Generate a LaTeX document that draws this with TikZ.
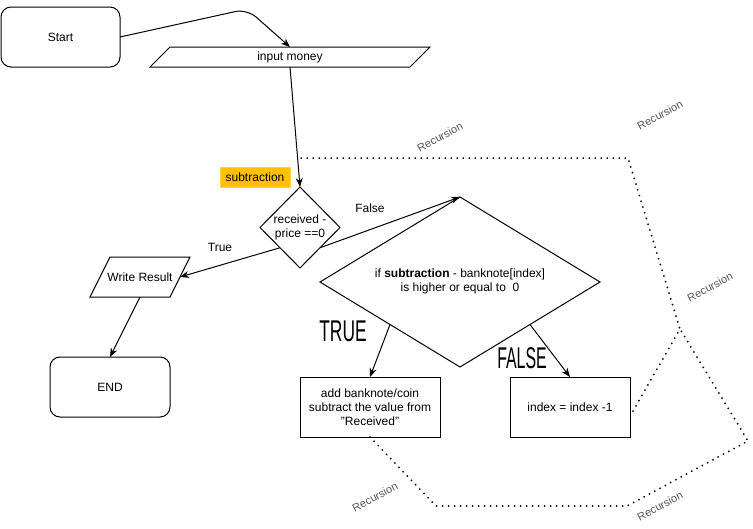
\documentclass[tikz,border=0pt]{standalone}
\usepackage{fontspec}
\setmainfont{Liberation Sans}
\usetikzlibrary{shapes.geometric,arrows.meta}
\definecolor{amber}{RGB}{255,192,0}
\definecolor{recgray}{RGB}{85,85,85}
\tikzset{
  base/.style={draw=black,line width=1pt,font=\fontsize{12}{14}\selectfont,align=center,inner sep=0pt,outer sep=0pt},
  rbox/.style={base,rectangle,rounded corners=10pt,minimum width=119pt,minimum height=60pt},
  sbox/.style={base,rectangle,minimum width=140pt,minimum height=60pt},
  paratext/.style={font=\fontsize{12}{14}\selectfont,align=center,inner sep=0pt,outer sep=0pt,rectangle},
  paraline/.style={draw=black,line width=1pt,line join=miter},
  dia/.style={base,diamond},
  txt/.style={font=\fontsize{12}{14}\selectfont,align=center,inner sep=0pt},
  conn/.style={line width=1pt,-{Stealth[length=9pt,width=7pt]}},
  dots/.style={line width=2pt,line cap=round,dash pattern=on 0pt off 6pt},
  rec/.style={text=recgray,font=\fontsize{11}{13}\selectfont,rotate=28,inner sep=0pt},
  big/.style={inner sep=0pt,font=\fontsize{30}{30}\selectfont}
}
\begin{document}
\begin{tikzpicture}[x=1pt,y=-1pt]
\useasboundingbox (0,0) rectangle (753,528);
% nodes
\node[rbox] (start) at (60.5,37) {Start};
\node[paratext,minimum width=260pt,minimum height=20pt] (inp) at (290,57) {input money};
\draw[paraline] ([xshift=-10pt]inp.south west) -- ([xshift=10pt]inp.north west) -- ([xshift=10pt]inp.north east) -- ([xshift=-10pt]inp.south east) -- cycle;
\node[base,fill=amber,draw=amber!70!white,line width=0.5pt,minimum width=70pt,minimum height=20pt] (sub) at (255,177) {subtraction};
\node[dia,minimum width=80pt,minimum height=81pt] (d1) at (300,227.5) {};
\node[txt] (d1t) at (300,227) {received -\\price ==0};
\node[paratext,minimum width=80pt,minimum height=40pt] (wr) at (140,277) {Write Result};
\draw[paraline] ([xshift=-10pt]wr.south west) -- ([xshift=10pt]wr.north west) -- ([xshift=10pt]wr.north east) -- ([xshift=-10pt]wr.south east) -- cycle;
\node[rbox,minimum width=120pt] (end) at (110,387) {END};
\node[dia,minimum width=280pt,minimum height=170pt] (bd) at (460,282) {};
\node[txt] (bdt) at (460,281) {if \textbf{subtraction} - banknote[index]\\is higher or equal to~~0};
\node[sbox] (add) at (370,407) {add banknote/coin\\subtract the value from\\"Received"};
\node[sbox,minimum width=120pt] (idx) at (570,407) {index = index -1};
% connectors
\coordinate (bend) at (247,9);
\draw[conn,rounded corners=12pt] (start.east) -- (bend) -- (inp.north);
\draw[conn] (inp.south) -- (d1.north);
\draw[conn] (d1.south west) -- (wr.east);
\node[txt] (lt) at (220,247) {True};
\draw[conn] (d1.south east) -- (bd.north);
\node[txt] (lf) at (370,208) {False};
\draw[conn] (wr.south) -- (end.north);
\draw[conn] (bd.south west) -- (add.north);
\draw[conn] (bd.south east) -- (idx.north);
% big labels
\node[big] (ltrue) at (343,331) {\scalebox{0.58}[1]{TRUE}};
\node[big] (lfalse) at (522,358) {\scalebox{0.53}[1]{FALSE}};
% recursion paths
\coordinate (x) at (680,329);
\coordinate (tc) at (628,158);
\coordinate (te) at (300,158);
\coordinate (b1) at (436,506);
\coordinate (b2) at (627,506);
\coordinate (b3) at (748,441);
\draw[dots] ([xshift=3pt,yshift=-4pt]idx.east) -- (x) -- (tc) -- (te);
\draw[dots] (add.south) -- (b1) -- (b2) -- (b3) -- (x);
\node[rec] (r1) at (440,137) {Recursion};
\node[rec] (r2) at (660,115) {Recursion};
\node[rec] (r3) at (710,287) {Recursion};
\node[rec] (r4) at (375,497) {Recursion};
\node[rec] (r5) at (660,506) {Recursion};
\end{tikzpicture}
\end{document}
